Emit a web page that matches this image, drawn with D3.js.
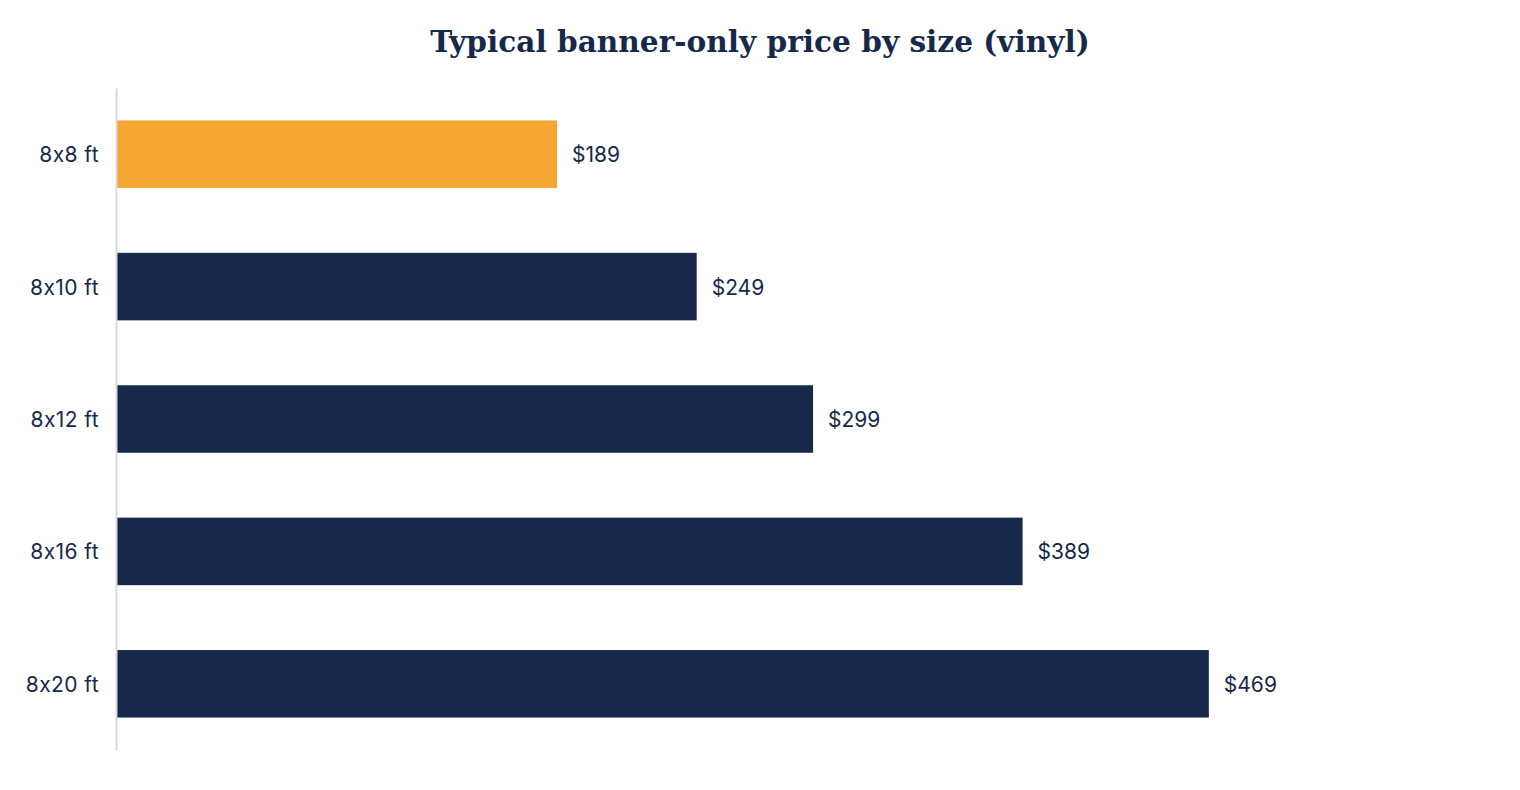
<!DOCTYPE html>
<html>
<head>
<meta charset="utf-8">
<script src="https://cdn.jsdelivr.net/npm/d3@7"></script>
<style>
  body { margin: 0; background: #fff; }
  svg { display: block; }
  text.lbl { font-family: Inter, sans-serif; font-feature-settings: "calt" 0; font-variant-ligatures: none; }
</style>
</head>
<body>
<svg id="chart" width="1520" height="790"></svg>
<script>
// data
var sizes = ["8x8 ft", "8x10 ft", "8x12 ft", "8x16 ft", "8x20 ft"];
var prices = [189, 249, 299, 389, 469];
var highlight = "8x8 ft";

var navy = "#16294a";
var orange = "#f5a633";

var svg = d3.select("#chart");

var x = d3.scaleLinear().domain([0, 500]).range([117, 117 + 1164]);
var y = d3.scaleBand().domain(sizes).range([88, 750])
  .paddingInner(0.49).paddingOuter(0.245);

// title
svg.append("text")
  .attr("x", 760)
  .attr("y", 52)
  .attr("text-anchor", "middle")
  .style("font-family", "'DejaVu Serif', Georgia, serif")
  .style("font-weight", "bold")
  .style("font-size", "29.6px")
  .style("fill", navy)
  .text("Typical banner-only price by size (vinyl)");

// bars
svg.selectAll("rect.bar")
  .data(sizes)
  .enter().append("rect")
  .attr("class", "bar")
  .attr("x", x(0))
  .attr("y", function (d) { return y(d); })
  .attr("width", function (d, i) { return x(prices[i]) - x(0); })
  .attr("height", y.bandwidth())
  .attr("fill", function (d) { return d == highlight ? orange : navy; });

// value labels
svg.selectAll("text.val")
  .data(sizes)
  .enter().append("text")
  .attr("class", "val lbl")
  .attr("x", function (d, i) { return x(prices[i]) + 15; })
  .attr("y", function (d) { return y(d) + y.bandwidth() / 2; })
  .attr("dy", "0.38em")
  .style("font-size", "21px")
  .style("fill", navy)
  .text(function (d, i) { return d3.format("$,.0f")(prices[i]); });

// y axis
var yAxis = d3.axisLeft(y).tickSize(0).tickPadding(17);
var g = svg.append("g")
  .attr("transform", "translate(116,0)")
  .call(yAxis);
g.select(".domain").attr("stroke", "#d9d9d9").attr("stroke-width", 2);
g.selectAll("text")
  .attr("class", "lbl")
  .attr("dy", "0.38em")
  .style("font-size", "21px")
  .style("letter-spacing", "0.4px")
  .style("fill", navy);
</script>
</body>
</html>
